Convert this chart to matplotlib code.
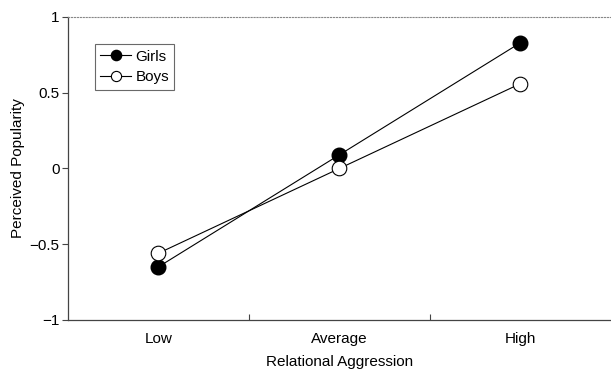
import matplotlib as mpl
mpl.use('Agg')
import matplotlib.pyplot as plt

#
#--- data
#
categories = ['Low', 'Average', 'High']
girls      = [-0.65, 0.09, 0.83]
boys       = [-0.56, 0.00, 0.56]
yticks     = [-1, -0.5, 0, 0.5, 1]
ylabels    = ['\u22121', '\u22120.5', '0', '0.5', '1']

plt.rcParams['font.family'] = ['Liberation Sans', 'DejaVu Sans']
fsize = 11

fig = plt.figure(figsize=(6.11, 3.69), dpi=100)
ax  = fig.add_axes([0.111, 0.133, 0.889, 0.821])

xpos = [1, 2, 3]
ax.plot(xpos, girls, color='black', lw=0.8, marker='o', markersize=10.5,
        markerfacecolor='black', markeredgecolor='black', label='Girls', zorder=3)
ax.plot(xpos, boys, color='black', lw=0.8, marker='o', markersize=10.5,
        markerfacecolor='white', markeredgecolor='black', markeredgewidth=0.8,
        label='Boys', zorder=3)

ax.set_xlim(0.5, 3.5)
ax.set_ylim(-1, 1)
#
#--- x axis: labels centred on categories, ticks between them
#
ax.set_xticks(xpos)
ax.set_xticklabels(categories, fontsize=fsize)
ax.tick_params(axis='x', which='major', length=0, pad=9)
ax.set_xticks([1.5, 2.5], minor=True)
ax.tick_params(axis='x', which='minor', direction='in', length=4, width=0.8, color='#444444')

ax.set_yticks(yticks)
ax.set_yticklabels(ylabels, fontsize=fsize)
ax.tick_params(axis='y', direction='out', length=4, width=0.8, color='#444444', pad=2)

ax.spines['right'].set_visible(False)
ax.spines['top'].set_linestyle(':')
ax.spines['top'].set_color('#888888')
ax.spines['top'].set_linewidth(0.8)
for s in ['left', 'bottom']:
    ax.spines[s].set_color('#444444')
    ax.spines[s].set_linewidth(0.9)

ax.set_xlabel('Relational Aggression', fontsize=fsize, labelpad=6)
ax.set_ylabel('Perceived Popularity', fontsize=fsize, labelpad=3)

leg = ax.legend(loc='upper left', bbox_to_anchor=(0.05, 0.91), fontsize=fsize,
                frameon=True, fancybox=False, edgecolor='#444444',
                handlelength=2.0, handletextpad=0.3, borderpad=0.35,
                labelspacing=0.45, markerscale=0.7, borderaxespad=0)
leg.get_frame().set_linewidth(0.8)

plt.savefig('out.png', dpi=100)
plt.close('all')
